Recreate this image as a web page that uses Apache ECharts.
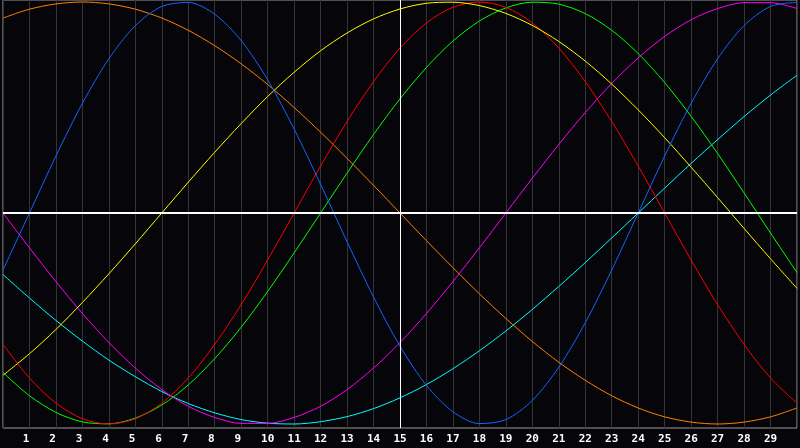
<!DOCTYPE html>
<html>
<head>
<meta charset="utf-8">
<script src="https://cdn.jsdelivr.net/npm/echarts@6/dist/echarts.min.js"></script>
<style>
  html, body { margin: 0; padding: 0; background: #060509; }
  #chart { width: 800px; height: 448px; }
</style>
</head>
<body>
<div id="chart"></div>
<script>
// days 0..30, one value per day (range -1..1)
const days = [0, 1, 2, 3, 4, 5, 6, 7, 8, 9, 10, 11, 12, 13, 14, 15, 16, 17, 18, 19, 20, 21, 22, 23, 24, 25, 26, 27, 28, 29, 30];

const orangeValues = [0.924, 0.966, 0.991, 1, 0.991, 0.966, 0.924, 0.866, 0.793, 0.707, 0.609, 0.5, 0.383, 0.259, 0.131, 0,
  -0.131, -0.259, -0.383, -0.5, -0.609, -0.707, -0.793, -0.866, -0.924, -0.966, -0.991, -1, -0.991, -0.966, -0.924];
const blueValues = [-0.27, 0, 0.27, 0.52, 0.731, 0.888, 0.979, 0.998, 0.942, 0.817, 0.631, 0.398, 0.136, -0.136, -0.398, -0.631,
  -0.817, -0.942, -0.998, -0.979, -0.888, -0.731, -0.52, -0.27, 0, 0.27, 0.52, 0.731, 0.888, 0.979, 0.998];
const yellowValues = [-0.769, -0.667, -0.552, -0.424, -0.288, -0.146, 0, 0.146, 0.288, 0.424, 0.552, 0.667, 0.769, 0.853, 0.92, 0.967,
  0.994, 0.999, 0.983, 0.946, 0.889, 0.813, 0.72, 0.611, 0.489, 0.357, 0.217, 0.073, -0.073, -0.217, -0.357];
const redValues = [-0.623, -0.782, -0.901, -0.975, -1, -0.975, -0.901, -0.782, -0.623, -0.434, -0.223, 0, 0.223, 0.434, 0.623, 0.782,
  0.901, 0.975, 1, 0.975, 0.901, 0.782, 0.623, 0.434, 0.223, 0, -0.223, -0.434, -0.623, -0.782, -0.901];
const greenValues = [-0.756, -0.866, -0.945, -0.99, -0.999, -0.972, -0.91, -0.815, -0.69, -0.541, -0.372, -0.189, 0, 0.189, 0.372, 0.541,
  0.69, 0.815, 0.91, 0.972, 0.999, 0.99, 0.945, 0.866, 0.756, 0.618, 0.458, 0.282, 0.095, -0.095, -0.282];
const magentaValues = [0, -0.165, -0.325, -0.476, -0.614, -0.735, -0.837, -0.916, -0.969, -0.997, -0.997, -0.969, -0.916, -0.837, -0.735, -0.614,
  -0.476, -0.325, -0.165, 0, 0.165, 0.325, 0.476, 0.614, 0.735, 0.837, 0.916, 0.969, 0.997, 0.997, 0.969];
const cyanValues = [-0.292, -0.403, -0.509, -0.607, -0.697, -0.776, -0.846, -0.903, -0.947, -0.979, -0.996, -1, -0.989, -0.965, -0.927, -0.876,
  -0.813, -0.738, -0.653, -0.559, -0.457, -0.348, -0.235, -0.118, 0, 0.118, 0.235, 0.348, 0.457, 0.559, 0.653];

const todayDay = 15;

function pairs(values) {
  return days.map((d, i) => [d, values[i]]);
}

const chart = echarts.init(document.getElementById('chart'));

function curve(color, values, extra) {
  return Object.assign({
    type: 'line',
    data: pairs(values),
    smooth: 0.3,
    showSymbol: false,
    silent: true,
    lineStyle: { color: color, width: 1 },
    z: 3
  }, extra || {});
}

chart.setOption({
  backgroundColor: '#060509',
  animation: false,
  grid: {
    left: 0,
    right: 1,
    top: 0,
    bottom: 20,
    show: true,
    borderColor: '#9a9a9a',
    borderWidth: 1,
    backgroundColor: 'transparent'
  },
  xAxis: {
    type: 'value',
    min: 0,
    max: 30,
    interval: 1,
    axisLine: { show: false },
    axisTick: { show: false },
    splitLine: { show: true, lineStyle: { color: '#343438', width: 1 } },
    axisLabel: {
      color: '#ffffff',
      fontFamily: 'DejaVu Sans Mono',
      fontWeight: 'bold',
      fontSize: 11,
      margin: 6,
      formatter: function (v) {
        if (v <= 0 || v >= 30) return '';
        return v < 10 ? v + ' ' : String(v);
      }
    }
  },
  yAxis: {
    type: 'value',
    min: -1.0189,
    max: 1.0095,
    axisLine: { show: false },
    axisTick: { show: false },
    axisLabel: { show: false },
    splitLine: { show: false }
  },
  series: [
    curve('#ff8000', orangeValues, {
      markLine: {
        silent: true,
        symbol: 'none',
        label: { show: false },
        animation: false,
        data: [
          { yAxis: 0, lineStyle: { color: '#ffffff', width: 2, type: 'solid' } },
          { xAxis: todayDay, lineStyle: { color: '#ffffff', width: 1, type: 'solid' } }
        ]
      }
    }),
    curve('#00ffff', cyanValues),
    curve('#ff00ff', magentaValues),
    curve('#00ff00', greenValues),
    curve('#ff0000', redValues),
    curve('#ffff00', yellowValues),
    curve('#1464ff', blueValues)
  ]
});
</script>
</body>
</html>
